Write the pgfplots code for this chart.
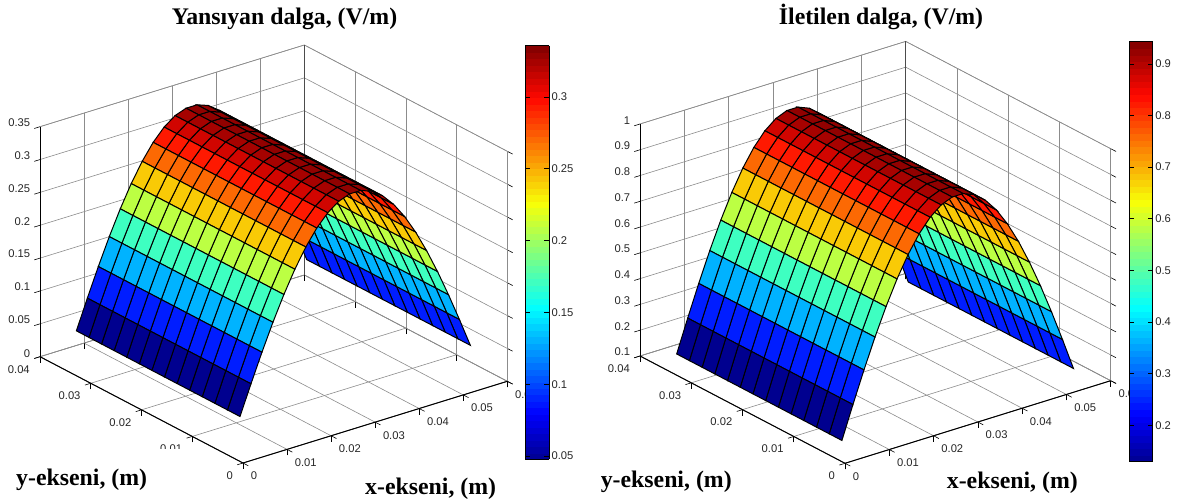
\documentclass[border=0pt]{standalone}
\usepackage{fontspec}
\setmainfont{Liberation Sans}
\newfontfamily\tfont{Liberation Serif}
\usepackage{pgfplots}
\usepackage{pgfplotstable}
\pgfplotsset{compat=1.18}
\pgfplotsset{colormap={mljet}{rgb(0cm)=(0,0,0.5625); rgb(7cm)=(0,0,1); rgb(23cm)=(0,1,1); rgb(39cm)=(0.97,1,0.03); rgb(55cm)=(1,0.03,0); rgb(63cm)=(0.5,0,0)}}
\pgfplotstableread{
x y zL mL zR mR
0.05599 0.0038 0.0477 0.0923 0.1293 0.2552
0.05599 0.00628 0.0477 0.0923 0.1293 0.2552
0.05599 0.00876 0.0477 0.0923 0.1293 0.2552
0.05599 0.01124 0.0477 0.0923 0.1293 0.2552
0.05599 0.01372 0.0477 0.0923 0.1293 0.2552
0.05599 0.0162 0.0477 0.0923 0.1293 0.2552
0.05599 0.01868 0.0477 0.0923 0.1293 0.2552
0.05599 0.02116 0.0477 0.0923 0.1293 0.2552
0.05599 0.02364 0.0477 0.0923 0.1293 0.2552
0.05599 0.02612 0.0477 0.0923 0.1293 0.2552
0.05599 0.0286 0.0477 0.0923 0.1293 0.2552
0.05599 0.03108 0.0477 0.0923 0.1293 0.2552
0.05599 0.03356 0.0477 0.0923 0.1293 0.2552
0.05599 0.03604 0.0477 0.0923 0.1293 0.2552
0.0535 0.0038 0.0923 0.1352 0.2552 0.3763
0.0535 0.00628 0.0923 0.1352 0.2552 0.3763
0.0535 0.00876 0.0923 0.1352 0.2552 0.3763
0.0535 0.01124 0.0923 0.1352 0.2552 0.3763
0.0535 0.01372 0.0923 0.1352 0.2552 0.3763
0.0535 0.0162 0.0923 0.1352 0.2552 0.3763
0.0535 0.01868 0.0923 0.1352 0.2552 0.3763
0.0535 0.02116 0.0923 0.1352 0.2552 0.3763
0.0535 0.02364 0.0923 0.1352 0.2552 0.3763
0.0535 0.02612 0.0923 0.1352 0.2552 0.3763
0.0535 0.0286 0.0923 0.1352 0.2552 0.3763
0.0535 0.03108 0.0923 0.1352 0.2552 0.3763
0.0535 0.03356 0.0923 0.1352 0.2552 0.3763
0.0535 0.03604 0.0923 0.1352 0.2552 0.3763
0.05101 0.0038 0.1352 0.1756 0.3763 0.4905
0.05101 0.00628 0.1352 0.1756 0.3763 0.4905
0.05101 0.00876 0.1352 0.1756 0.3763 0.4905
0.05101 0.01124 0.1352 0.1756 0.3763 0.4905
0.05101 0.01372 0.1352 0.1756 0.3763 0.4905
0.05101 0.0162 0.1352 0.1756 0.3763 0.4905
0.05101 0.01868 0.1352 0.1756 0.3763 0.4905
0.05101 0.02116 0.1352 0.1756 0.3763 0.4905
0.05101 0.02364 0.1352 0.1756 0.3763 0.4905
0.05101 0.02612 0.1352 0.1756 0.3763 0.4905
0.05101 0.0286 0.1352 0.1756 0.3763 0.4905
0.05101 0.03108 0.1352 0.1756 0.3763 0.4905
0.05101 0.03356 0.1352 0.1756 0.3763 0.4905
0.05101 0.03604 0.1352 0.1756 0.3763 0.4905
0.04852 0.0038 0.1756 0.2127 0.4905 0.5953
0.04852 0.00628 0.1756 0.2127 0.4905 0.5953
0.04852 0.00876 0.1756 0.2127 0.4905 0.5953
0.04852 0.01124 0.1756 0.2127 0.4905 0.5953
0.04852 0.01372 0.1756 0.2127 0.4905 0.5953
0.04852 0.0162 0.1756 0.2127 0.4905 0.5953
0.04852 0.01868 0.1756 0.2127 0.4905 0.5953
0.04852 0.02116 0.1756 0.2127 0.4905 0.5953
0.04852 0.02364 0.1756 0.2127 0.4905 0.5953
0.04852 0.02612 0.1756 0.2127 0.4905 0.5953
0.04852 0.0286 0.1756 0.2127 0.4905 0.5953
0.04852 0.03108 0.1756 0.2127 0.4905 0.5953
0.04852 0.03356 0.1756 0.2127 0.4905 0.5953
0.04852 0.03604 0.1756 0.2127 0.4905 0.5953
0.04603 0.0038 0.2127 0.2460 0.5953 0.6894
0.04603 0.00628 0.2127 0.2460 0.5953 0.6894
0.04603 0.00876 0.2127 0.2460 0.5953 0.6894
0.04603 0.01124 0.2127 0.2460 0.5953 0.6894
0.04603 0.01372 0.2127 0.2460 0.5953 0.6894
0.04603 0.0162 0.2127 0.2460 0.5953 0.6894
0.04603 0.01868 0.2127 0.2460 0.5953 0.6894
0.04603 0.02116 0.2127 0.2460 0.5953 0.6894
0.04603 0.02364 0.2127 0.2460 0.5953 0.6894
0.04603 0.02612 0.2127 0.2460 0.5953 0.6894
0.04603 0.0286 0.2127 0.2460 0.5953 0.6894
0.04603 0.03108 0.2127 0.2460 0.5953 0.6894
0.04603 0.03356 0.2127 0.2460 0.5953 0.6894
0.04603 0.03604 0.2127 0.2460 0.5953 0.6894
0.04354 0.0038 0.2460 0.2747 0.6894 0.7707
0.04354 0.00628 0.2460 0.2747 0.6894 0.7707
0.04354 0.00876 0.2460 0.2747 0.6894 0.7707
0.04354 0.01124 0.2460 0.2747 0.6894 0.7707
0.04354 0.01372 0.2460 0.2747 0.6894 0.7707
0.04354 0.0162 0.2460 0.2747 0.6894 0.7707
0.04354 0.01868 0.2460 0.2747 0.6894 0.7707
0.04354 0.02116 0.2460 0.2747 0.6894 0.7707
0.04354 0.02364 0.2460 0.2747 0.6894 0.7707
0.04354 0.02612 0.2460 0.2747 0.6894 0.7707
0.04354 0.0286 0.2460 0.2747 0.6894 0.7707
0.04354 0.03108 0.2460 0.2747 0.6894 0.7707
0.04354 0.03356 0.2460 0.2747 0.6894 0.7707
0.04354 0.03604 0.2460 0.2747 0.6894 0.7707
0.04105 0.0038 0.2747 0.2984 0.7707 0.8376
0.04105 0.00628 0.2747 0.2984 0.7707 0.8376
0.04105 0.00876 0.2747 0.2984 0.7707 0.8376
0.04105 0.01124 0.2747 0.2984 0.7707 0.8376
0.04105 0.01372 0.2747 0.2984 0.7707 0.8376
0.04105 0.0162 0.2747 0.2984 0.7707 0.8376
0.04105 0.01868 0.2747 0.2984 0.7707 0.8376
0.04105 0.02116 0.2747 0.2984 0.7707 0.8376
0.04105 0.02364 0.2747 0.2984 0.7707 0.8376
0.04105 0.02612 0.2747 0.2984 0.7707 0.8376
0.04105 0.0286 0.2747 0.2984 0.7707 0.8376
0.04105 0.03108 0.2747 0.2984 0.7707 0.8376
0.04105 0.03356 0.2747 0.2984 0.7707 0.8376
0.04105 0.03604 0.2747 0.2984 0.7707 0.8376
0.03856 0.0038 0.2984 0.3165 0.8376 0.8887
0.03856 0.00628 0.2984 0.3165 0.8376 0.8887
0.03856 0.00876 0.2984 0.3165 0.8376 0.8887
0.03856 0.01124 0.2984 0.3165 0.8376 0.8887
0.03856 0.01372 0.2984 0.3165 0.8376 0.8887
0.03856 0.0162 0.2984 0.3165 0.8376 0.8887
0.03856 0.01868 0.2984 0.3165 0.8376 0.8887
0.03856 0.02116 0.2984 0.3165 0.8376 0.8887
0.03856 0.02364 0.2984 0.3165 0.8376 0.8887
0.03856 0.02612 0.2984 0.3165 0.8376 0.8887
0.03856 0.0286 0.2984 0.3165 0.8376 0.8887
0.03856 0.03108 0.2984 0.3165 0.8376 0.8887
0.03856 0.03356 0.2984 0.3165 0.8376 0.8887
0.03856 0.03604 0.2984 0.3165 0.8376 0.8887
0.03607 0.0038 0.3165 0.3288 0.8887 0.9233
0.03607 0.00628 0.3165 0.3288 0.8887 0.9233
0.03607 0.00876 0.3165 0.3288 0.8887 0.9233
0.03607 0.01124 0.3165 0.3288 0.8887 0.9233
0.03607 0.01372 0.3165 0.3288 0.8887 0.9233
0.03607 0.0162 0.3165 0.3288 0.8887 0.9233
0.03607 0.01868 0.3165 0.3288 0.8887 0.9233
0.03607 0.02116 0.3165 0.3288 0.8887 0.9233
0.03607 0.02364 0.3165 0.3288 0.8887 0.9233
0.03607 0.02612 0.3165 0.3288 0.8887 0.9233
0.03607 0.0286 0.3165 0.3288 0.8887 0.9233
0.03607 0.03108 0.3165 0.3288 0.8887 0.9233
0.03607 0.03356 0.3165 0.3288 0.8887 0.9233
0.03607 0.03604 0.3165 0.3288 0.8887 0.9233
0.03358 0.0038 0.3288 0.3349 0.9233 0.9407
0.03358 0.00628 0.3288 0.3349 0.9233 0.9407
0.03358 0.00876 0.3288 0.3349 0.9233 0.9407
0.03358 0.01124 0.3288 0.3349 0.9233 0.9407
0.03358 0.01372 0.3288 0.3349 0.9233 0.9407
0.03358 0.0162 0.3288 0.3349 0.9233 0.9407
0.03358 0.01868 0.3288 0.3349 0.9233 0.9407
0.03358 0.02116 0.3288 0.3349 0.9233 0.9407
0.03358 0.02364 0.3288 0.3349 0.9233 0.9407
0.03358 0.02612 0.3288 0.3349 0.9233 0.9407
0.03358 0.0286 0.3288 0.3349 0.9233 0.9407
0.03358 0.03108 0.3288 0.3349 0.9233 0.9407
0.03358 0.03356 0.3288 0.3349 0.9233 0.9407
0.03358 0.03604 0.3288 0.3349 0.9233 0.9407
0.03109 0.0038 0.3349 0.3349 0.9407 0.9407
0.03109 0.00628 0.3349 0.3349 0.9407 0.9407
0.03109 0.00876 0.3349 0.3349 0.9407 0.9407
0.03109 0.01124 0.3349 0.3349 0.9407 0.9407
0.03109 0.01372 0.3349 0.3349 0.9407 0.9407
0.03109 0.0162 0.3349 0.3349 0.9407 0.9407
0.03109 0.01868 0.3349 0.3349 0.9407 0.9407
0.03109 0.02116 0.3349 0.3349 0.9407 0.9407
0.03109 0.02364 0.3349 0.3349 0.9407 0.9407
0.03109 0.02612 0.3349 0.3349 0.9407 0.9407
0.03109 0.0286 0.3349 0.3349 0.9407 0.9407
0.03109 0.03108 0.3349 0.3349 0.9407 0.9407
0.03109 0.03356 0.3349 0.3349 0.9407 0.9407
0.03109 0.03604 0.3349 0.3349 0.9407 0.9407
0.0286 0.0038 0.3349 0.3288 0.9407 0.9233
0.0286 0.00628 0.3349 0.3288 0.9407 0.9233
0.0286 0.00876 0.3349 0.3288 0.9407 0.9233
0.0286 0.01124 0.3349 0.3288 0.9407 0.9233
0.0286 0.01372 0.3349 0.3288 0.9407 0.9233
0.0286 0.0162 0.3349 0.3288 0.9407 0.9233
0.0286 0.01868 0.3349 0.3288 0.9407 0.9233
0.0286 0.02116 0.3349 0.3288 0.9407 0.9233
0.0286 0.02364 0.3349 0.3288 0.9407 0.9233
0.0286 0.02612 0.3349 0.3288 0.9407 0.9233
0.0286 0.0286 0.3349 0.3288 0.9407 0.9233
0.0286 0.03108 0.3349 0.3288 0.9407 0.9233
0.0286 0.03356 0.3349 0.3288 0.9407 0.9233
0.0286 0.03604 0.3349 0.3288 0.9407 0.9233
0.02611 0.0038 0.3288 0.3165 0.9233 0.8887
0.02611 0.00628 0.3288 0.3165 0.9233 0.8887
0.02611 0.00876 0.3288 0.3165 0.9233 0.8887
0.02611 0.01124 0.3288 0.3165 0.9233 0.8887
0.02611 0.01372 0.3288 0.3165 0.9233 0.8887
0.02611 0.0162 0.3288 0.3165 0.9233 0.8887
0.02611 0.01868 0.3288 0.3165 0.9233 0.8887
0.02611 0.02116 0.3288 0.3165 0.9233 0.8887
0.02611 0.02364 0.3288 0.3165 0.9233 0.8887
0.02611 0.02612 0.3288 0.3165 0.9233 0.8887
0.02611 0.0286 0.3288 0.3165 0.9233 0.8887
0.02611 0.03108 0.3288 0.3165 0.9233 0.8887
0.02611 0.03356 0.3288 0.3165 0.9233 0.8887
0.02611 0.03604 0.3288 0.3165 0.9233 0.8887
0.02362 0.0038 0.3165 0.2984 0.8887 0.8376
0.02362 0.00628 0.3165 0.2984 0.8887 0.8376
0.02362 0.00876 0.3165 0.2984 0.8887 0.8376
0.02362 0.01124 0.3165 0.2984 0.8887 0.8376
0.02362 0.01372 0.3165 0.2984 0.8887 0.8376
0.02362 0.0162 0.3165 0.2984 0.8887 0.8376
0.02362 0.01868 0.3165 0.2984 0.8887 0.8376
0.02362 0.02116 0.3165 0.2984 0.8887 0.8376
0.02362 0.02364 0.3165 0.2984 0.8887 0.8376
0.02362 0.02612 0.3165 0.2984 0.8887 0.8376
0.02362 0.0286 0.3165 0.2984 0.8887 0.8376
0.02362 0.03108 0.3165 0.2984 0.8887 0.8376
0.02362 0.03356 0.3165 0.2984 0.8887 0.8376
0.02362 0.03604 0.3165 0.2984 0.8887 0.8376
0.02113 0.0038 0.2984 0.2747 0.8376 0.7707
0.02113 0.00628 0.2984 0.2747 0.8376 0.7707
0.02113 0.00876 0.2984 0.2747 0.8376 0.7707
0.02113 0.01124 0.2984 0.2747 0.8376 0.7707
0.02113 0.01372 0.2984 0.2747 0.8376 0.7707
0.02113 0.0162 0.2984 0.2747 0.8376 0.7707
0.02113 0.01868 0.2984 0.2747 0.8376 0.7707
0.02113 0.02116 0.2984 0.2747 0.8376 0.7707
0.02113 0.02364 0.2984 0.2747 0.8376 0.7707
0.02113 0.02612 0.2984 0.2747 0.8376 0.7707
0.02113 0.0286 0.2984 0.2747 0.8376 0.7707
0.02113 0.03108 0.2984 0.2747 0.8376 0.7707
0.02113 0.03356 0.2984 0.2747 0.8376 0.7707
0.02113 0.03604 0.2984 0.2747 0.8376 0.7707
0.01864 0.0038 0.2747 0.2460 0.7707 0.6894
0.01864 0.00628 0.2747 0.2460 0.7707 0.6894
0.01864 0.00876 0.2747 0.2460 0.7707 0.6894
0.01864 0.01124 0.2747 0.2460 0.7707 0.6894
0.01864 0.01372 0.2747 0.2460 0.7707 0.6894
0.01864 0.0162 0.2747 0.2460 0.7707 0.6894
0.01864 0.01868 0.2747 0.2460 0.7707 0.6894
0.01864 0.02116 0.2747 0.2460 0.7707 0.6894
0.01864 0.02364 0.2747 0.2460 0.7707 0.6894
0.01864 0.02612 0.2747 0.2460 0.7707 0.6894
0.01864 0.0286 0.2747 0.2460 0.7707 0.6894
0.01864 0.03108 0.2747 0.2460 0.7707 0.6894
0.01864 0.03356 0.2747 0.2460 0.7707 0.6894
0.01864 0.03604 0.2747 0.2460 0.7707 0.6894
0.01615 0.0038 0.2460 0.2127 0.6894 0.5953
0.01615 0.00628 0.2460 0.2127 0.6894 0.5953
0.01615 0.00876 0.2460 0.2127 0.6894 0.5953
0.01615 0.01124 0.2460 0.2127 0.6894 0.5953
0.01615 0.01372 0.2460 0.2127 0.6894 0.5953
0.01615 0.0162 0.2460 0.2127 0.6894 0.5953
0.01615 0.01868 0.2460 0.2127 0.6894 0.5953
0.01615 0.02116 0.2460 0.2127 0.6894 0.5953
0.01615 0.02364 0.2460 0.2127 0.6894 0.5953
0.01615 0.02612 0.2460 0.2127 0.6894 0.5953
0.01615 0.0286 0.2460 0.2127 0.6894 0.5953
0.01615 0.03108 0.2460 0.2127 0.6894 0.5953
0.01615 0.03356 0.2460 0.2127 0.6894 0.5953
0.01615 0.03604 0.2460 0.2127 0.6894 0.5953
0.01366 0.0038 0.2127 0.1756 0.5953 0.4905
0.01366 0.00628 0.2127 0.1756 0.5953 0.4905
0.01366 0.00876 0.2127 0.1756 0.5953 0.4905
0.01366 0.01124 0.2127 0.1756 0.5953 0.4905
0.01366 0.01372 0.2127 0.1756 0.5953 0.4905
0.01366 0.0162 0.2127 0.1756 0.5953 0.4905
0.01366 0.01868 0.2127 0.1756 0.5953 0.4905
0.01366 0.02116 0.2127 0.1756 0.5953 0.4905
0.01366 0.02364 0.2127 0.1756 0.5953 0.4905
0.01366 0.02612 0.2127 0.1756 0.5953 0.4905
0.01366 0.0286 0.2127 0.1756 0.5953 0.4905
0.01366 0.03108 0.2127 0.1756 0.5953 0.4905
0.01366 0.03356 0.2127 0.1756 0.5953 0.4905
0.01366 0.03604 0.2127 0.1756 0.5953 0.4905
0.01117 0.0038 0.1756 0.1352 0.4905 0.3763
0.01117 0.00628 0.1756 0.1352 0.4905 0.3763
0.01117 0.00876 0.1756 0.1352 0.4905 0.3763
0.01117 0.01124 0.1756 0.1352 0.4905 0.3763
0.01117 0.01372 0.1756 0.1352 0.4905 0.3763
0.01117 0.0162 0.1756 0.1352 0.4905 0.3763
0.01117 0.01868 0.1756 0.1352 0.4905 0.3763
0.01117 0.02116 0.1756 0.1352 0.4905 0.3763
0.01117 0.02364 0.1756 0.1352 0.4905 0.3763
0.01117 0.02612 0.1756 0.1352 0.4905 0.3763
0.01117 0.0286 0.1756 0.1352 0.4905 0.3763
0.01117 0.03108 0.1756 0.1352 0.4905 0.3763
0.01117 0.03356 0.1756 0.1352 0.4905 0.3763
0.01117 0.03604 0.1756 0.1352 0.4905 0.3763
0.00868 0.0038 0.1352 0.0923 0.3763 0.2552
0.00868 0.00628 0.1352 0.0923 0.3763 0.2552
0.00868 0.00876 0.1352 0.0923 0.3763 0.2552
0.00868 0.01124 0.1352 0.0923 0.3763 0.2552
0.00868 0.01372 0.1352 0.0923 0.3763 0.2552
0.00868 0.0162 0.1352 0.0923 0.3763 0.2552
0.00868 0.01868 0.1352 0.0923 0.3763 0.2552
0.00868 0.02116 0.1352 0.0923 0.3763 0.2552
0.00868 0.02364 0.1352 0.0923 0.3763 0.2552
0.00868 0.02612 0.1352 0.0923 0.3763 0.2552
0.00868 0.0286 0.1352 0.0923 0.3763 0.2552
0.00868 0.03108 0.1352 0.0923 0.3763 0.2552
0.00868 0.03356 0.1352 0.0923 0.3763 0.2552
0.00868 0.03604 0.1352 0.0923 0.3763 0.2552
0.00619 0.0038 0.0923 0.0477 0.2552 0.1293
0.00619 0.00628 0.0923 0.0477 0.2552 0.1293
0.00619 0.00876 0.0923 0.0477 0.2552 0.1293
0.00619 0.01124 0.0923 0.0477 0.2552 0.1293
0.00619 0.01372 0.0923 0.0477 0.2552 0.1293
0.00619 0.0162 0.0923 0.0477 0.2552 0.1293
0.00619 0.01868 0.0923 0.0477 0.2552 0.1293
0.00619 0.02116 0.0923 0.0477 0.2552 0.1293
0.00619 0.02364 0.0923 0.0477 0.2552 0.1293
0.00619 0.02612 0.0923 0.0477 0.2552 0.1293
0.00619 0.0286 0.0923 0.0477 0.2552 0.1293
0.00619 0.03108 0.0923 0.0477 0.2552 0.1293
0.00619 0.03356 0.0923 0.0477 0.2552 0.1293
0.00619 0.03604 0.0923 0.0477 0.2552 0.1293
0.0037 0.0038 0.0477 0.0477 0.1293 0.1293
0.0037 0.00628 0.0477 0.0477 0.1293 0.1293
0.0037 0.00876 0.0477 0.0477 0.1293 0.1293
0.0037 0.01124 0.0477 0.0477 0.1293 0.1293
0.0037 0.01372 0.0477 0.0477 0.1293 0.1293
0.0037 0.0162 0.0477 0.0477 0.1293 0.1293
0.0037 0.01868 0.0477 0.0477 0.1293 0.1293
0.0037 0.02116 0.0477 0.0477 0.1293 0.1293
0.0037 0.02364 0.0477 0.0477 0.1293 0.1293
0.0037 0.02612 0.0477 0.0477 0.1293 0.1293
0.0037 0.0286 0.0477 0.0477 0.1293 0.1293
0.0037 0.03108 0.0477 0.0477 0.1293 0.1293
0.0037 0.03356 0.0477 0.0477 0.1293 0.1293
0.0037 0.03604 0.0477 0.0477 0.1293 0.1293
}\wave
\pgfplotsset{
  wavebox/.style={
    clip=false, anchor=origin, colormap name=mljet,
    xmin=0,xmax=0.06,ymin=0,ymax=0.04,
    grid=major, grid style={gray!90,line width=0.6pt},
    axis line style={gray!90,line width=0.6pt},
    tick style={black,line width=0.6pt},
    major tick length=6pt, tick align=outside,
    xtick pos=left, ytick pos=left, ztick pos=left,
    xtick={0,0.01,0.02,0.03,0.04,0.05,0.06},
    xticklabels={0,0.01,0.02,0.03,0.04,0.05,0.06},
    ytick={0,0.01,0.02,0.03,0.04},
    yticklabels={0,0.01,0.02,0.03,0.04},
    tick label style={font=\fontsize{11.2}{12}\selectfont,text=black!85},
    xticklabel style={anchor=west,xshift=-1pt,yshift=-10.3pt},
    yticklabel style={anchor=east,xshift=-1pt,yshift=-10.7pt},
    zticklabel shift=1pt,
    scaled ticks=false,
  },
  wavesurf/.style={surf, shader=flat corner, draw=black, line width=1pt,
    z buffer=none, mesh/rows=14, mesh/cols=22, mesh/ordering=y varies},
  cbar/.style={
    colormap name=mljet,
    colorbar sampled,
    colorbar style={#1,
      samples=65, axis line style={black,line width=0.8pt},
      major tick length=5pt, tick align=inside,
      tick style={black,line width=0.6pt},
      ytick pos=both, yticklabel pos=right,
      tick label style={font=\fontsize{11.2}{12}\selectfont,text=black!85},
      yticklabel shift=-1pt, scaled ticks=false,
      anchor=south west},
  },
}
\begin{document}
\begin{tikzpicture}[x=1pt,y=1pt]
\useasboundingbox (0,0) rectangle (1180,500);
% left
\begin{axis}[wavebox, at={(243pt,37pt)},
  x={(4405pt,1361.7pt)}, y={(-5075pt,2657.5pt)}, z={(0pt,657.14pt)},
  zmin=0,zmax=0.35,
  ztick={0,0.05,0.1,0.15,0.2,0.25,0.3,0.35},
  zticklabels={0,0.05,0.1,0.15,0.2,0.25,0.3,0.35},
  point meta min=0.052, point meta max=0.34]
\draw[black!70,line width=0.8pt] (axis cs:0.06,0.04,0) -- (axis cs:0.06,0.04,0.35);
\addplot3[wavesurf, point meta=\thisrow{mL}] table[x=x,y=y,z=zL]{\wave};
\draw[black,line width=1pt] (axis cs:0,0.04,0) -- (axis cs:0,0,0) -- (axis cs:0.06,0,0);
\draw[black,line width=0.8pt] (axis cs:0,0.04,0) -- (axis cs:0,0.04,0.35);
\end{axis}
% right
\begin{axis}[wavebox, at={(845pt,36.7pt)},
  x={(4428.3pt,1376.7pt)}, y={(-5125pt,2682.5pt)}, z={(0pt,257.78pt)},
  zmin=0.1,zmax=1,
  ztick={0.1,0.2,0.3,0.4,0.5,0.6,0.7,0.8,0.9,1},
  zticklabels={0.1,0.2,0.3,0.4,0.5,0.6,0.7,0.8,0.9,1},
  point meta min=0.1415, point meta max=0.955]
\draw[black!70,line width=0.8pt] (axis cs:0.06,0.04,0.1) -- (axis cs:0.06,0.04,1);
\addplot3[wavesurf, point meta=\thisrow{mR}] table[x=x,y=y,z=zR]{\wave};
\draw[black,line width=1pt] (axis cs:0,0.04,0.1) -- (axis cs:0,0,0.1) -- (axis cs:0.06,0,0.1);
\draw[black,line width=0.8pt] (axis cs:0,0.04,0.1) -- (axis cs:0,0.04,1);
\end{axis}
\pgfplotscolorbardrawstandalone[cbar={at={(516.5pt,40.7pt)},width=24pt,height=413.6pt,
  ytick={0.05,0.1,0.15,0.2,0.25,0.3},yticklabels={0.05,0.1,0.15,0.2,0.25,0.3}},
  point meta min=0.0477, point meta max=0.3357]
\pgfplotscolorbardrawstandalone[cbar={at={(1120.8pt,38.3pt)},width=23.4pt,height=420pt,
  ytick={0.2,0.3,0.4,0.5,0.6,0.7,0.8,0.9},yticklabels={0.2,0.3,0.4,0.5,0.6,0.7,0.8,0.9}},
  point meta min=0.1293, point meta max=0.943]
% labels
\fill[white] (0,0) rectangle (200,51);
\tikzset{lab/.style={font=\tfont\bfseries\fontsize{23.8}{26}\selectfont,text=black,inner sep=0pt}}
\node[lab,anchor=base] at (284.5,475.5) {Yansıyan dalga, (V/m)};
\node[lab,anchor=base] at (881,475.5) {İletilen dalga, (V/m)};
\node[lab,anchor=base west] at (16,14.6) {y-ekseni, (m)};
\node[lab,anchor=base west] at (365,5.5) {x-ekseni, (m)};
\node[lab,anchor=base west] at (600.6,12.1) {y-ekseni, (m)};
\node[lab,anchor=base west] at (946.7,11.1) {x-ekseni, (m)};
\end{tikzpicture}
\end{document}
